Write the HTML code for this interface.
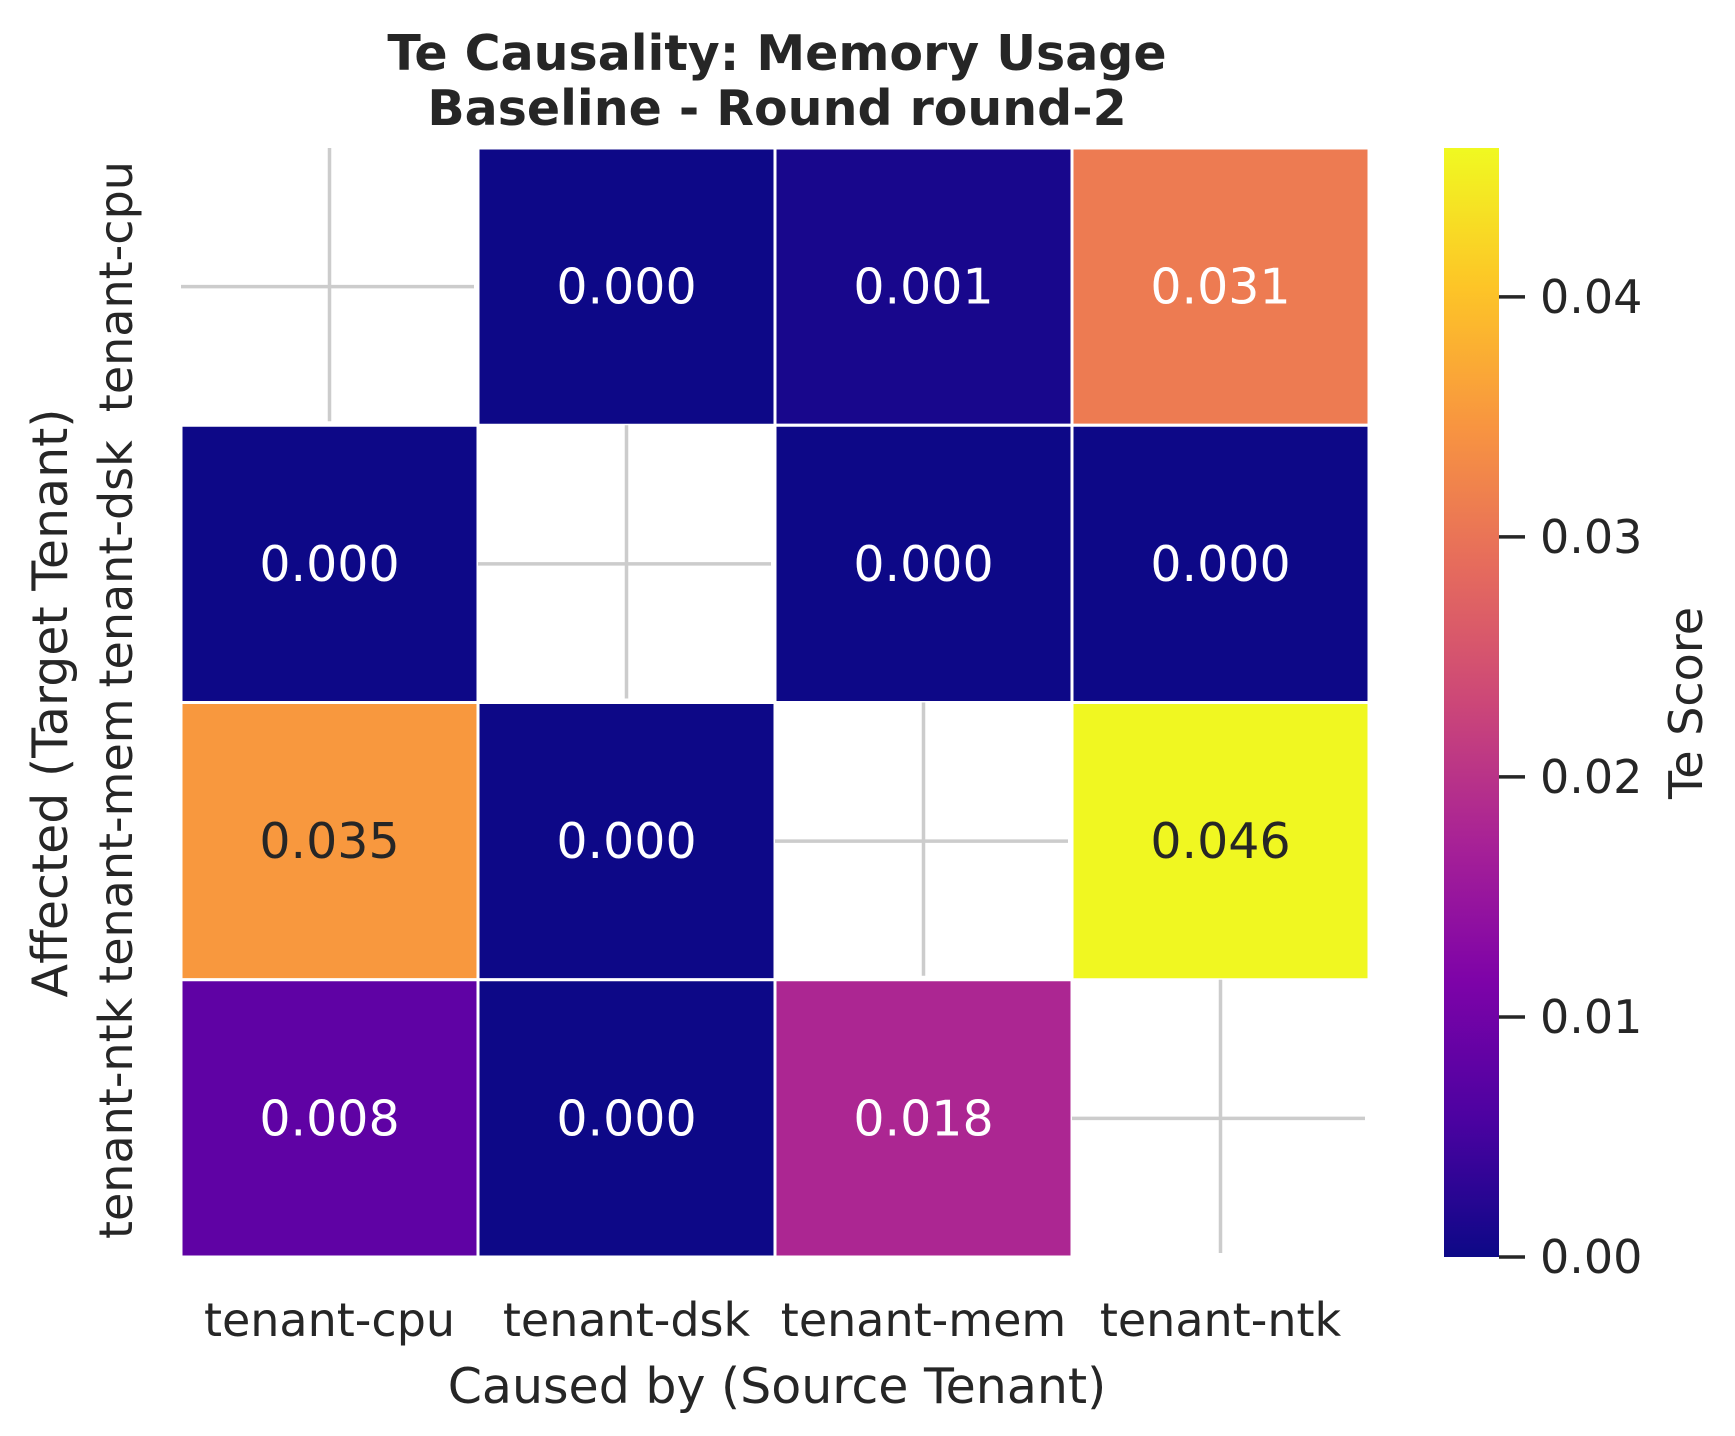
<!DOCTYPE html>
<html><head><meta charset="utf-8"><style>
body{margin:0;background:#fff;}
svg{display:block;font-family:"DejaVu Sans","Liberation Sans",sans-serif;}
</style></head><body>
<svg id="chart" width="1735" height="1436" viewBox="0 0 1735 1436" xmlns="http://www.w3.org/2000/svg">
<defs>
<linearGradient id="plasma" x1="0" y1="1" x2="0" y2="0">
<stop offset="0" stop-color="#0d0887"/><stop offset="0.125" stop-color="#4c02a1"/>
<stop offset="0.25" stop-color="#7e03a8"/><stop offset="0.375" stop-color="#a82296"/>
<stop offset="0.5" stop-color="#cc4778"/><stop offset="0.625" stop-color="#e66c5c"/>
<stop offset="0.75" stop-color="#f89540"/><stop offset="0.875" stop-color="#fdc527"/>
<stop offset="1" stop-color="#f0f921"/></linearGradient>
</defs>
<text x="777" y="70" text-anchor="middle" font-size="49" font-weight="bold" fill="#262626">Te Causality: Memory Usage</text>
<text x="777" y="125" text-anchor="middle" font-size="49" font-weight="bold" fill="#262626">Baseline - Round round-2</text>
<g id="cells"></g>
<g id="xt"></g><g id="yt"></g>
<text x="777" y="1403" text-anchor="middle" font-size="49" fill="#262626">Caused by (Source Tenant)</text>
<text transform="translate(67,703) rotate(-90)" text-anchor="middle" font-size="49" fill="#262626">Affected (Target Tenant)</text>
<rect x="1444" y="148" width="55" height="1109" fill="url(#plasma)"/>
<g id="cb"></g>
<text transform="translate(1702,703) rotate(-90)" text-anchor="middle" font-size="46" fill="#262626">Te Score</text>
</svg>
<script>
const categories=["tenant-cpu","tenant-dsk","tenant-mem","tenant-ntk"];
const row0=[null,0.000,0.001,0.031];
const row1=[0.000,null,0.000,0.000];
const row2=[0.035,0.000,null,0.046];
const row3=[0.008,0.000,0.018,null];
const rows=[row0,row1,row2,row3];
const cbTicks=[0,0.01,0.02,0.03,0.04];
const cbTickLabels=["0.00","0.01","0.02","0.03","0.04"];
const vmax=0.0462;
const L=181,T=148,W=1188,H=1109,n=categories.length,cw=W/n,ch=H/n;
const NS="http://www.w3.org/2000/svg";
const stops=["#0d0887","#4c02a1","#7e03a8","#a82296","#cc4778","#e66c5c","#f89540","#fdc527","#f0f921"];
function hx(h){return [1,3,5].map(i=>parseInt(h.substr(i,2),16));}
function plasma(t){t=Math.max(0,Math.min(1,t));const p=t*8,i=Math.min(7,Math.floor(p)),f=p-i;const a=hx(stops[i]),b=hx(stops[i+1]);return "rgb("+a.map((v,k)=>Math.round(v+(b[k]-v)*f)).join(",")+")";}
function xs(j){return L+j*cw;} function ys(i){return T+i*ch;}
function cy(v){return T+H-v/vmax*H;}
function mk(tag,at,par){const e=document.createElementNS(NS,tag);for(const k in at)e.setAttribute(k,at[k]);par.appendChild(e);return e;}
const cells=document.getElementById('cells');
rows.forEach((r,i)=>r.forEach((v,j)=>{
 if(v===null){
  const g=mk('g',{},cells);
  
  
  mk('line',{x1:xs(j),x2:xs(j+1)-4,y1:ys(i)+ch/2,y2:ys(i)+ch/2,stroke:'#cccccc','stroke-width':3.5},g);
  mk('line',{x1:xs(j)+cw/2,x2:xs(j)+cw/2,y1:ys(i),y2:ys(i+1)-4,stroke:'#cccccc','stroke-width':3.5},g);
  return;}
 const t=v/vmax;
 const rc=mk('rect',{x:xs(j),y:ys(i),width:cw,height:ch,fill:plasma(t),stroke:'#fff','stroke-width':3},cells);
 
 
 const tx=mk('text',{x:xs(j)+cw/2,y:ys(i)+ch/2+17,'text-anchor':'middle','font-size':49,fill:t>0.72?'#262626':'#ffffff'},cells);
 
 
 tx.textContent=v.toFixed(3);
}));
const xt=document.getElementById('xt'),yt=document.getElementById('yt');
categories.forEach((c,j)=>{
 const a=mk('text',{x:xs(j)+cw/2,y:1336,'text-anchor':'middle','font-size':46,fill:'#262626'},xt);
 
 
 a.textContent=c;
 const b=mk('text',{transform:'translate(132,'+(ys(j)+ch/2)+') rotate(-90)','text-anchor':'middle','font-size':46,fill:'#262626'},yt);
 
 
 b.textContent=c;
});
const cb=document.getElementById('cb');
cbTicks.forEach((v,k)=>{
 const y=cy(v);
 const l=mk('line',{x1:1499,x2:1525,y1:y,y2:y,stroke:'#262626','stroke-width':3.5},cb);
 
 
 const t=mk('text',{x:1540,y:y+16,'font-size':46,fill:'#262626'},cb);
 
 
 t.textContent=cbTickLabels[k];
});
</script>
</body></html>
